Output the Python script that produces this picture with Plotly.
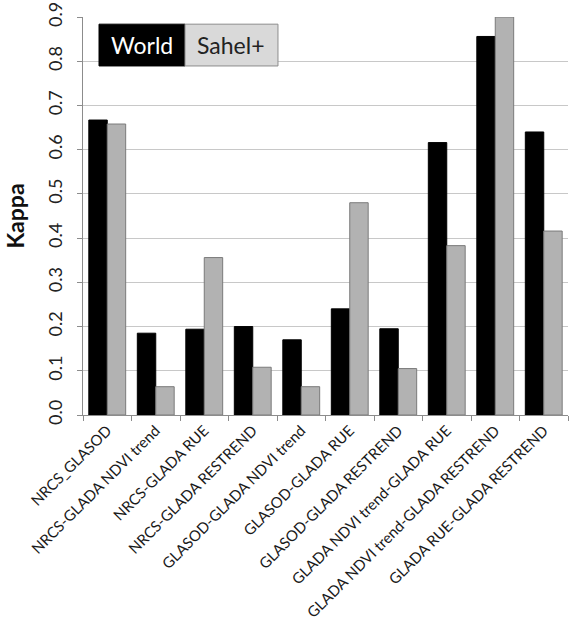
import plotly.graph_objects as go

categories = [
    "NRCS_GLASOD",
    "NRCS-GLADA NDVI trend",
    "NRCS-GLADA RUE",
    "NRCS-GLADA RESTREND",
    "GLASOD-GLADA NDVI trend",
    "GLASOD-GLADA RUE",
    "GLASOD-GLADA RESTREND",
    "GLADA NDVI trend-GLADA RUE",
    "GLADA NDVI trend-GLADA RESTREND",
    "GLADA RUE-GLADA RESTREND",
]
world = [0.667, 0.185, 0.194, 0.200, 0.170, 0.240, 0.195, 0.616, 0.856, 0.640]
sahel = [0.658, 0.064, 0.356, 0.108, 0.064, 0.480, 0.105, 0.383, 0.900, 0.416]
y_ticks = [0.0, 0.1, 0.2, 0.3, 0.4, 0.5, 0.6, 0.7, 0.8, 0.9]

FONT = "Lato, 'Open Sans', sans-serif"

fig = go.Figure()
fig.add_trace(go.Bar(
    x=categories, y=world, name="World",
    marker=dict(color="#000000", line=dict(color="#000000", width=1)),
))
fig.add_trace(go.Bar(
    x=categories, y=sahel, name="Sahel+",
    marker=dict(color="#b2b2b2", line=dict(color="#7a7a7a", width=1)),
))

# boxed legend drawn as two adjoining cells
LX0, LXM, LX1 = 0.033, 0.2103, 0.402
LY0, LY1 = 0.877, 0.982
fig.add_shape(type="rect", xref="paper", yref="paper",
              x0=LX0, x1=LXM, y0=LY0, y1=LY1,
              fillcolor="#000000", line=dict(color="#000000", width=1))
fig.add_shape(type="rect", xref="paper", yref="paper",
              x0=LXM, x1=LX1, y0=LY0, y1=LY1,
              fillcolor="#d9d9d9", line=dict(color="#8c8c8c", width=1))
fig.add_annotation(text="World", xref="paper", yref="paper",
                   x=(LX0 + LXM) / 2, y=(LY0 + LY1) / 2,
                   xanchor="center", yanchor="middle",
                   showarrow=False, font=dict(family=FONT, size=23, color="#ffffff"))
fig.add_annotation(text="Sahel+", xref="paper", yref="paper",
                   x=(LXM + LX1) / 2, y=(LY0 + LY1) / 2,
                   xanchor="center", yanchor="middle",
                   showarrow=False, font=dict(family=FONT, size=23, color="#222222"))

fig.update_layout(
    width=571, height=626,
    margin=dict(l=83, r=3, t=17, b=211),
    paper_bgcolor="#ffffff", plot_bgcolor="#ffffff",
    barmode="group", bargap=0.24, bargroupgap=0,
    showlegend=False,
    font=dict(family=FONT, color="#222222"),
)
fig.update_yaxes(
    range=[0, 0.9], tickvals=y_ticks, tickformat=".1f",
    tickangle=-90, tickfont=dict(size=18, color="#222222"),
    ticklabelstandoff=8,
    showgrid=True, gridcolor="#c8c8c8", gridwidth=1,
    showline=True, linecolor="#8c8c8c", linewidth=1,
    ticks="outside", ticklen=5, tickcolor="#8c8c8c",
    zeroline=False, automargin=False,
    title=dict(text="<b>Kappa</b>", font=dict(size=23, color="#111111"), standoff=12),
)
fig.update_xaxes(
    tickangle=-45, tickfont=dict(size=15, color="#1a1a1a"),
    showline=True, linecolor="#8c8c8c", linewidth=1,
    ticks="outside", ticklen=5, tickcolor="#8c8c8c", tickson="boundaries",
    showgrid=False, automargin=False,
)

fig.write_html("out.html")
